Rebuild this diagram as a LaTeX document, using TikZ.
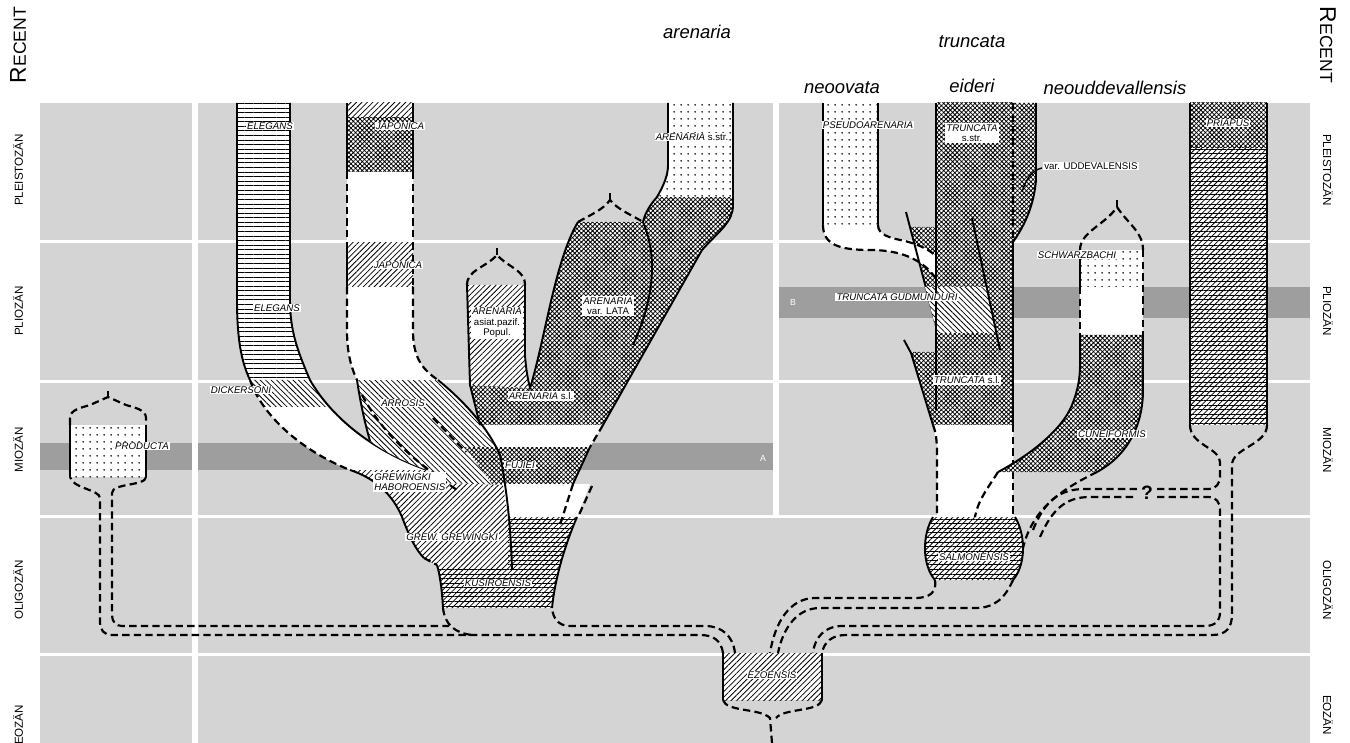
\documentclass[tikz,border=0pt]{standalone}
\usepackage{fontspec}
\setmainfont{Liberation Sans}
\usetikzlibrary{patterns.meta}

\begin{document}
\begin{tikzpicture}[x=0.02cm, y=-0.02cm,
  panel/.style={fill=black!17},
  band/.style={fill=black!38},
  rim/.style={line width=1.1pt},
  gap/.style={line width=1.25pt, dash pattern=on 4.2pt off 2.4pt},
  hlines/.style={pattern={Lines[angle=0,distance=2.6pt,line width=.45pt]}},
  hatchne/.style={pattern={Lines[angle=45,distance=2.2pt,line width=.45pt]}},
  hatchnw/.style={pattern={Lines[angle=-45,distance=2.2pt,line width=.45pt]}},
  checker/.style={pattern={Hatch[angle=45,distance=1.8pt,line width=.45pt]}},
  dotfill/.style={pattern={Dots[distance=4pt,radius=.6pt]}},
  mixed/.style={hlines, postaction={hatchne}},
  lab/.style={fill=white, inner sep=.6pt, align=center, font=\fontsize{5.5}{6}\selectfont\itshape},
  stage/.style={font=\fontsize{6.6}{7}\selectfont, inner sep=0pt},
  taxon/.style={font=\fontsize{10.5}{12}\selectfont\itshape, inner sep=0pt}]
\useasboundingbox (0,0) rectangle (1350,743);

% background panels
\foreach \ya/\yb in {103/240,243/380,383/515}{
  \fill[panel] (40,\ya) rectangle (192,\yb);
  \fill[panel] (198,\ya) rectangle (773,\yb);
  \fill[panel] (779,\ya) rectangle (1310,\yb);}
\foreach \ya/\yb in {518/653,656/743}{
  \fill[panel] (40,\ya) rectangle (192,\yb);
  \fill[panel] (198,\ya) rectangle (1310,\yb);}
\fill[band] (40,443) rectangle (192,470);
\fill[band] (198,443) rectangle (773,470);
\fill[band] (779,287) rectangle (1310,318);
\node[font=\fontsize{5}{5}\selectfont, text=white] (bandA) at (763,458) {A};
\node[font=\fontsize{5}{5}\selectfont, text=white] (bandB) at (793,302) {B};

% stages
\node[stage, rotate=90] (recL) at (18,45) {{\fontsize{13}{13}\selectfont R}{\fontsize{10}{10}\selectfont ECENT}};
\node[stage, rotate=90] (pleiL) at (18,170) {PLEISTOZÄN};
\node[stage, rotate=90] (plioL) at (18,311) {PLIOZÄN};
\node[stage, rotate=90] (mioL) at (18,450) {MIOZÄN};
\node[stage, rotate=90] (oligL) at (18,590) {OLIGOZÄN};
\node[stage, rotate=90] (eozL) at (18,725) {EOZÄN};
\node[stage, rotate=-90] (recR) at (1328,45) {{\fontsize{13}{13}\selectfont R}{\fontsize{10}{10}\selectfont ECENT}};
\node[stage, rotate=-90] (pleiR) at (1328,170) {PLEISTOZÄN};
\node[stage, rotate=-90] (plioR) at (1328,311) {PLIOZÄN};
\node[stage, rotate=-90] (mioR) at (1328,450) {MIOZÄN};
\node[stage, rotate=-90] (oligR) at (1328,590) {OLIGOZÄN};
\node[stage, rotate=-90] (eozR) at (1328,715) {EOZÄN};

\node[taxon] (tArenaria) at (697,32) {arenaria};
\node[taxon] (tTruncata) at (972,42) {truncata};
\node[taxon] (tNeoovata) at (842,88) {neoovata};
\node[taxon] (tEideri) at (972,86) {eideri};
\node[taxon] (tNeoudd) at (1115,88) {neouddevallensis};

% elegans
\path[fill=white, postaction={hlines}] (237,103) -- (237,300) .. controls (237,345) and (243,365) .. (250,380) -- (310,380) .. controls (297,350) and (290,330) .. (290,300) -- (290,103) -- cycle;
\fill[white] (250,380) .. controls (262,415) and (300,450) .. (350,470) -- (427,470) .. controls (370,450) and (330,415) .. (310,380) -- cycle;
\begin{scope}
  \clip (250,380) .. controls (262,415) and (300,450) .. (350,470) -- (427,470) .. controls (370,450) and (330,415) .. (310,380) -- cycle;
  \fill[hatchnw] (240,380) rectangle (440,407);
\end{scope}
\draw[rim] (237,103) -- (237,300) .. controls (237,345) and (243,365) .. (250,380);
\draw[rim] (290,103) -- (290,300) .. controls (290,330) and (297,350) .. (310,380);
\draw[gap] (250,380) .. controls (262,415) and (300,450) .. (350,470);
\draw[rim] (310,380) .. controls (330,415) and (370,450) .. (427,470);

% arrosis and grewingki
\path[fill=white, postaction={hatchnw}] (357,380) -- (438,380) .. controls (465,402) and (488,428) .. (500,455) -- (503,485) -- (440,483) -- (427,470) .. controls (405,462) and (385,452) .. (370,441) .. controls (364,420) and (360,400) .. (357,380) -- cycle;
\path[fill=white, postaction={hatchne}] (350,470) .. controls (375,478) and (393,495) .. (402,517) .. controls (412,543) and (422,560) .. (437,565) -- (510,565) .. controls (509,530) and (507,505) .. (503,485) -- (440,483) -- (427,470) -- cycle;

% japonica
\fill[white] (347,103) -- (413,103) -- (413,330) .. controls (413,355) and (420,368) .. (438,380) -- (357,380) .. controls (350,365) and (347,350) .. (347,330) -- cycle;
\fill[hatchne] (347,103) rectangle (413,118);
\fill[checker] (347,118) rectangle (413,172);
\fill[hatchne] (347,243) rectangle (413,287);
\draw[rim] (347,103) -- (347,172);
\draw[rim] (413,103) -- (413,172);
\draw[gap] (347,172) -- (347,243);
\draw[gap] (413,172) -- (413,243);
\draw[rim] (347,243) -- (347,287);
\draw[gap] (413,243) -- (413,287);
\draw[gap] (347,287) -- (347,330) .. controls (347,350) and (350,365) .. (357,380);
\draw[gap] (413,287) -- (413,330) .. controls (413,355) and (420,368) .. (438,380);

% arenaria
\path[fill=white, postaction={checker}] (470,385) -- (480,425) -- (603,425) -- (702,250) .. controls (720,230) and (733,222) .. (733,205) -- (733,197) -- (657,197) .. controls (650,205) and (645,213) .. (643,222) -- (578,222) .. controls (555,260) and (545,340) .. (530,388) -- (525,385) -- cycle;
\path[fill=white, postaction={dotfill}] (668,103) -- (733,103) -- (733,197) -- (657,197) .. controls (664,185) and (668,175) .. (668,165) -- cycle;
\path[fill=white, postaction={hatchne}] (467,285) -- (525,285) -- (525,355) .. controls (526,370) and (528,380) .. (530,388) -- (470,385) -- cycle;
\draw[gap] (467,285) .. controls (467,270) and (485,268) .. (497,255) .. controls (509,268) and (525,270) .. (525,285);
\draw[gap] (497,255) -- (497,248);
\draw[gap] (578,222) .. controls (590,215) and (603,210) .. (610,200) .. controls (618,210) and (632,215) .. (643,222);
\draw[gap] (610,200) -- (610,193);
\draw[rim] (467,285) -- (470,385) -- (480,425);
\draw[rim] (525,285) -- (525,355) .. controls (526,370) and (528,380) .. (530,388) .. controls (545,340) and (555,260) .. (578,222);
\draw[rim] (643,222) .. controls (655,250) and (658,290) .. (633,345);
\draw[rim] (668,103) -- (668,165) .. controls (668,175) and (664,185) .. (657,197) .. controls (650,205) and (645,213) .. (643,222);
\draw[rim] (733,103) -- (733,205) .. controls (733,222) and (720,230) .. (702,250) -- (603,425);

% fujiei and kusiroensis
\fill[white] (480,425) -- (603,425) -- (590,447) -- (497,447) -- cycle;
\path[fill=white, postaction={checker}] (465,447) -- (590,447) -- (573,484) -- (492,484) -- cycle;
\fill[white] (503,484) -- (590,484) -- (577,517) -- (508,517) -- cycle;
\path[fill=white, postaction={mixed}] (437,565) -- (508,565) -- (508,517) -- (577,517) .. controls (565,545) and (555,578) .. (552,608) -- (443,608) .. controls (442,590) and (440,575) .. (437,565) -- cycle;
\draw[rim] (577,517) .. controls (565,545) and (555,578) .. (552,608);
\draw[rim] (437,565) .. controls (440,575) and (442,590) .. (443,608);
\draw[rim] (590,447) -- (573,484);
\draw[gap] (603,425) -- (590,447);
\draw[gap] (573,484) -- (560,525);
\draw[gap] (592,486) -- (578,517);
\draw[rim] (357,380) .. controls (360,400) and (364,420) .. (370,441);
\draw[rim] (438,380) .. controls (465,402) and (488,428) .. (500,455) .. controls (507,490) and (511,530) .. (512,570);
\draw[rim] (350,470) .. controls (375,478) and (393,495) .. (402,517) .. controls (410,538) and (416,550) .. (424,558);
\draw[gap] (424,558) -- (437,565);
\draw[gap] (362,395) .. controls (385,438) and (420,465) .. (457,490);
\draw[gap] (433,418) -- (466,452);

% producta
\path[fill=white, postaction={dotfill}] (70,425) rectangle (146,477);
\draw[rim] (70,425) -- (70,477);
\draw[rim] (146,425) -- (146,477);
\draw[gap] (70,425) -- (70,418) .. controls (70,410) and (80,408) .. (90,405) -- (108,397) -- (126,405) .. controls (136,408) and (146,410) .. (146,418) -- (146,425);
\draw[gap] (108,397) -- (108,391);

% ezoensis and its connections
\path[fill=white, postaction={hatchne}] (723,653) rectangle (822,700);
\draw[rim] (723,653) -- (723,700);
\draw[rim] (822,653) -- (822,700);
\draw[gap] (723,700) .. controls (726,712) and (760,708) .. (770,718) -- (772,743);
\draw[gap] (822,700) .. controls (819,712) and (784,708) .. (776,718);
\draw[gap] (723,653) .. controls (721,640) and (713,635) .. (700,635) -- (112,635) .. controls (104,635) and (100,630) .. (100,622) -- (100,498) .. controls (100,490) and (72,488) .. (70,477);
\draw[gap] (735,653) .. controls (733,636) and (722,626) .. (705,626) -- (570,626) .. controls (558,626) and (553,618) .. (552,608);
\draw[gap] (146,477) .. controls (146,486) and (112,483) .. (112,493) -- (112,615) .. controls (112,622) and (116,626) .. (122,626) -- (449,626);
\draw[gap] (443,608) .. controls (445,625) and (455,633) .. (472,635);

% neoovata / truncata
\path[fill=white, postaction={dotfill}] (823,103) rectangle (878,225);
\draw[rim] (823,103) -- (823,225);
\draw[rim] (878,103) -- (878,225);
\path[fill=white, postaction={checker}] (911,227) -- (937,227) -- (937,290) -- (926,290) -- cycle;
\fill[white] (823,225) .. controls (823,245) and (840,250) .. (870,250) .. controls (905,250) and (925,262) .. (937,280) -- (937,257) .. controls (930,250) and (920,245) .. (905,241) .. controls (890,238) and (878,235) .. (878,225) -- cycle;
\draw[gap] (823,225) .. controls (823,245) and (840,250) .. (870,250) .. controls (905,250) and (925,262) .. (937,280);
\draw[gap] (878,225) .. controls (878,235) and (890,238) .. (905,241) .. controls (920,245) and (930,250) .. (937,257);
\draw[rim] (906,212) -- (937,330);
\path[fill=white, postaction={checker}] (937,103) rectangle (1013,425);
\path[fill=white, postaction={checker}] (1013,103) -- (1036,103) -- (1036,180) .. controls (1034,205) and (1025,225) .. (1013,242) -- cycle;
\path[fill=white, postaction={hatchnw}] (925,287) -- (986,287) -- (997,333) -- (937,333) -- cycle;
\path[fill=white, postaction={checker}] (910,352) -- (937,352) -- (937,425) -- (933,425) -- cycle;
\draw[rim] (1036,103) -- (1036,180) .. controls (1034,205) and (1025,225) .. (1013,242) -- (1013,425);
\draw[gap] (1013,103) -- (1013,242);
\draw[rim] (936,103) -- (936,410);
\draw[rim] (904,340) -- (911,353) -- (933,425);
\draw[rim] (972,218) -- (1000,350);
\fill[white] (933,425) -- (1013,425) -- (1013,517) -- (937,517) -- (937,445) -- cycle;
\draw[gap] (933,425) .. controls (937,435) and (937,445) .. (937,460) -- (937,517);
\draw[gap] (1013,425) -- (1013,517);
\draw[line width=.8pt] (1022,192) .. controls (1026,178) and (1033,170) .. (1042,168);

% salmonensis
\path[fill=white, postaction={mixed}] (933,517) -- (1015,517) .. controls (1026,535) and (1026,565) .. (1013,580) -- (935,580) .. controls (922,565) and (922,535) .. (933,517) -- cycle;
\draw[rim] (1015,517) .. controls (1026,535) and (1026,565) .. (1013,580);
\draw[rim] (933,517) .. controls (922,535) and (922,565) .. (935,580);

% schwarzbachi / cuneiformis
\draw[gap] (1080,250) .. controls (1080,232) and (1105,225) .. (1117,207) .. controls (1129,225) and (1143,232) .. (1143,250);
\draw[gap] (1117,207) -- (1117,200);
\path[fill=white, postaction={dotfill}] (1080,250) rectangle (1143,287);
\fill[white] (1080,287) rectangle (1143,335);
\path[fill=white, postaction={checker}] (1080,335) -- (1143,335) -- (1143,390) .. controls (1143,425) and (1128,455) .. (1097,472) -- (998,472) .. controls (1030,455) and (1062,430) .. (1072,405) .. controls (1078,390) and (1080,378) .. (1080,365) -- cycle;
\draw[rim] (1080,258) -- (1080,287);
\draw[gap] (1080,287) -- (1080,335);
\draw[gap] (1143,250) -- (1143,335);
\draw[rim] (1080,335) -- (1080,365) .. controls (1080,378) and (1078,390) .. (1072,405) .. controls (1062,430) and (1030,455) .. (998,472);
\draw[rim] (1143,335) -- (1143,390) .. controls (1143,425) and (1128,455) .. (1097,472);
\draw[gap] (998,472) .. controls (988,488) and (978,500) .. (975,517);
\draw[gap] (1097,472) .. controls (1060,490) and (1032,510) .. (1023,548);

% priapus
\path[fill=white, postaction={checker}] (1190,103) rectangle (1267,148);
\path[fill=white, postaction={mixed}] (1190,148) rectangle (1267,425);
\draw[rim] (1190,103) -- (1190,425);
\draw[rim] (1267,103) -- (1267,425);
\draw[gap] (1190,425) .. controls (1190,445) and (1220,448) .. (1220,462);
\draw[gap] (1267,425) .. controls (1267,445) and (1232,448) .. (1232,465) -- (1232,614) .. controls (1232,628) and (1226,635) .. (1212,635) -- (846,635) .. controls (832,635) and (824,642) .. (822,653);
\draw[gap] (1033,530) .. controls (1045,500) and (1060,489) .. (1085,489) -- (1137,489);
\draw[gap] (1157,489) -- (1208,489) .. controls (1216,489) and (1220,484) .. (1220,476) -- (1220,462);
\draw[gap] (1040,537) .. controls (1052,510) and (1065,497) .. (1090,497) -- (1137,497);
\draw[gap] (1157,497) -- (1208,497) .. controls (1216,497) and (1220,502) .. (1220,510) -- (1220,612) .. controls (1220,621) and (1215,626) .. (1205,626) -- (842,626) .. controls (826,626) and (815,636) .. (813,653);
\draw[gap] (935,580) .. controls (937,592) and (930,598) .. (915,598) -- (815,598) .. controls (790,598) and (775,622) .. (770,653);
\draw[gap] (1013,580) .. controls (1005,598) and (995,608) .. (975,608) -- (820,608) .. controls (797,608) and (783,628) .. (778,653);
\node[font=\fontsize{11}{11}\selectfont\bfseries, inner sep=0pt] (qmark) at (1147,493) {?};

% labels
\node[lab] (elegansA) at (270,126) {ELEGANS};
\node[lab] (elegansB) at (277,308) {ELEGANS};
\node[lab] (japonicaA) at (400,126) {JAPONICA};
\node[lab] (japonicaB) at (398,265) {JAPONICA};
\node[lab] (dickersoni) at (241,390) {DICKERSONI};
\node[lab] (arrosis) at (403,403) {ARROSIS};
\node[lab, align=left, anchor=west] (grewHab) at (373,482) {GREWINGKI\\ HABOROENSIS};
\node[lab] (grewGrew) at (452,537) {GREW. GREWINGKI};
\node[lab] (kusiroensis) at (498,583) {KUSIROENSIS};
\node[lab] (fujiei) at (520,465) {FUJIEI};
\node[lab] (arenSl) at (541,396) {ARENARIA {\upshape s.l.}};
\node[lab] (arenAsiat) at (497,323) {ARENARIA\\ {\upshape asiat.pazif.}\\ {\upshape Popul.}};
\node[lab] (arenLata) at (608,306) {ARENARIA\\ {\upshape var. LATA}};
\node[lab] (arenStr) at (692,137) {ARENARIA {\upshape s.str.}};
\node[lab] (producta) at (142,446) {PRODUCTA};
\node[lab] (ezoensis) at (772,675) {EZOENSIS};
\node[lab] (pseudo) at (868,125) {PSEUDOARENARIA};
\node[lab] (truncStr) at (972,133) {TRUNCATA\\ {\upshape s.str.}};
\node[lab, anchor=west, font=\fontsize{5.5}{6}\selectfont] (uddev) at (1043,166) {var. UDDEVALENSIS};
\node[lab] (gudmund) at (897,297) {TRUNCATA GUDMUNDURI};
\node[lab] (truncSl) at (967,380) {TRUNCATA {\upshape s.l.}};
\node[lab] (schwarz) at (1077,255) {SCHWARZBACHI};
\node[lab] (cuneif) at (1112,434) {CUNEIFORMIS};
\node[lab] (salmon) at (974,557) {SALMONENSIS};
\node[lab] (priapus) at (1228,123) {PRIAPUS};
\end{tikzpicture}
\end{document}
